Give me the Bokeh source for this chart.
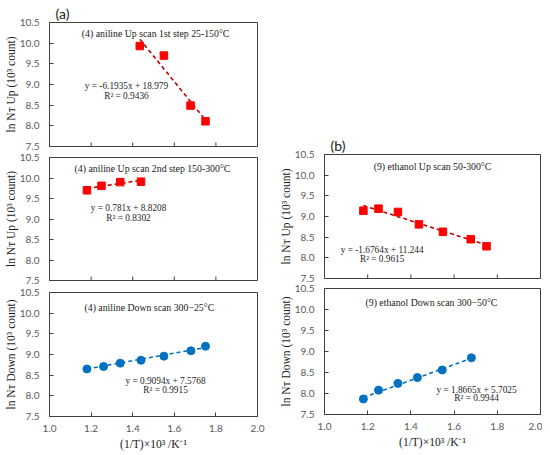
from bokeh.plotting import figure
from bokeh.models import Range1d, FixedTicker, Label, NumeralTickFormatter, Title
from bokeh.layouts import row, column
from bokeh.embed import file_html
from bokeh.resources import INLINE

# ---------------- data ----------------
an_up1_x = [1.434, 1.55, 1.678, 1.75]
an_up1_y = [9.93, 9.70, 8.49, 8.11]
an_up2_x = [1.18, 1.25, 1.34, 1.44]
an_up2_y = [9.70, 9.81, 9.90, 9.91]
an_dn_x = [1.18, 1.26, 1.34, 1.44, 1.55, 1.68, 1.75]
an_dn_y = [8.65, 8.71, 8.79, 8.86, 8.96, 9.09, 9.20]
et_up_x = [1.18, 1.25, 1.34, 1.437, 1.548, 1.677, 1.75]
et_up_y = [9.14, 9.19, 9.11, 8.81, 8.63, 8.45, 8.28]
et_dn_x = [1.18, 1.25, 1.34, 1.43, 1.545, 1.68]
et_dn_y = [7.87, 8.08, 8.24, 8.38, 8.56, 8.85]

fits = {
    "an_up1": (-6.1935, 18.979),
    "an_up2": (0.781, 8.8208),
    "an_dn": (0.9094, 7.5768),
    "et_up": (-1.6764, 11.244),
    "et_dn": (1.8665, 5.7025),
}
titles = {
    "an_up1": "(4) aniline Up scan 1st step 25-150°C",
    "an_up2": "(4) aniline Up scan 2nd step 150-300°C",
    "an_dn": "(4) aniline Down scan 300\u221225°C",
    "et_up": "(9) ethanol Up scan 50-300°C",
    "et_dn": "(9) ethanol Down scan 300\u221250°C",
}
eqs = {
    "an_up1": ("y = -6.1935x + 18.979", "R² = 0.9436"),
    "an_up2": ("y = 0.781x + 8.8208", "R² = 0.8302"),
    "an_dn": ("y = 0.9094x + 7.5768", "R² = 0.9915"),
    "et_up": ("y = -1.6764x + 11.244", "R² = 0.9615"),
    "et_dn": ("y = 1.8665x + 5.7025", "R² = 0.9944"),
}
y_ticks = [7.5, 8.0, 8.5, 9.0, 9.5, 10.0, 10.5]
x_ticks = [1.0, 1.2, 1.4, 1.6, 1.8, 2.0]
ylab_up = "ln N\u1d1b Up (10³ count)"
ylab_dn = "ln N\u1d1b Down (10³ count)"
xlab = "(1/T)×10³ /K\u207b\u00b9"

RED = "#FF0000"
RED_LINE = "#C00000"
BLUE = "#0070C0"
AX = "#404040"
SERIF = "Liberation Serif"


def panel(key, xs, ys, marker, color, lcolor, tpos, epos, rpos, ylab,
          bottom, fw, fh, b_left, b_right, b_top, b_bottom):
    p = figure(frame_width=fw, frame_height=fh, output_backend="svg",
               toolbar_location=None,
               x_range=Range1d(1.0, 2.0), y_range=Range1d(7.5, 10.5),
               min_border_left=b_left, min_border_right=b_right,
               min_border_top=b_top, min_border_bottom=b_bottom)
    p.background_fill_color = "white"
    p.border_fill_color = "white"
    p.outline_line_color = AX
    p.outline_line_width = 1
    p.grid.visible = False
    for ax in (p.xaxis, p.yaxis):
        ax.axis_line_color = AX
        ax.major_tick_line_color = AX
        ax.major_tick_in = 4
        ax.major_tick_out = 0
        ax.minor_tick_line_color = None
        ax.major_label_text_font = "Lato"
        ax.major_label_text_font_size = "10px"
        ax.major_label_text_color = "#595959"
    p.yaxis.ticker = FixedTicker(ticks=y_ticks)
    p.yaxis.formatter = NumeralTickFormatter(format="0.0")
    p.yaxis.major_label_standoff = 10
    p.yaxis.axis_label = ylab
    p.yaxis.axis_label_text_font = SERIF
    p.yaxis.axis_label_text_font_size = "11.5px"
    p.yaxis.axis_label_text_font_style = "normal"
    p.yaxis.axis_label_text_color = "#1a1a1a"
    p.yaxis.axis_label_standoff = 0
    p.xaxis.ticker = FixedTicker(ticks=x_ticks)
    p.xaxis.formatter = NumeralTickFormatter(format="0.0")
    if bottom:
        p.xaxis.major_label_standoff = 8
        p.xaxis.axis_label = xlab
        p.xaxis.axis_label_text_font = SERIF
        p.xaxis.axis_label_text_font_size = "11.5px"
        p.xaxis.axis_label_text_font_style = "normal"
        p.xaxis.axis_label_text_color = "#1a1a1a"
        p.xaxis.axis_label_standoff = 3
    else:
        # no tick labels on the upper panels: inward tick marks only
        p.xaxis.visible = False
        tick_len = 4 * 3.0 / fh
        p.segment(x0=x_ticks[1:-1], y0=[7.5] * (len(x_ticks) - 2),
                  x1=x_ticks[1:-1], y1=[7.5 + tick_len] * (len(x_ticks) - 2),
                  line_color=AX, line_width=1)

    m, b = fits[key]
    x0, x1 = min(xs), max(xs)
    p.line([x0, x1], [m * x0 + b, m * x1 + b], line_color=lcolor,
           line_width=1.6, line_dash="4 3")
    if marker == "square":
        p.scatter(xs, ys, marker="square", size=7.5, fill_color=color,
                  line_color=color)
    else:
        p.scatter(xs, ys, marker="circle", size=8, fill_color=color,
                  line_color=color)

    p.add_layout(Label(x=tpos[0], y=tpos[1], text=titles[key],
                       text_align="center", text_baseline="middle",
                       text_font=SERIF, text_font_size="9.8px",
                       text_color="#1a1a1a"))
    e, r = eqs[key]
    p.add_layout(Label(x=epos[0], y=epos[1], text=e,
                       text_align="center", text_baseline="middle",
                       text_font=SERIF, text_font_size="9.3px",
                       text_color="#262626"))
    p.add_layout(Label(x=rpos[0], y=rpos[1], text=r,
                       text_align="center", text_baseline="middle",
                       text_font=SERIF, text_font_size="9.3px",
                       text_color="#262626"))
    return p


p1 = panel("an_up1", an_up1_x, an_up1_y, "square", RED, RED_LINE,
           (1.51, 10.24), (1.37, 8.97), (1.37, 8.73), ylab_up,
           False, 208, 124, 49, 10, 22, 5)
p2 = panel("an_up2", an_up2_x, an_up2_y, "square", RED, RED_LINE,
           (1.495, 10.23), (1.38, 9.26), (1.38, 9.02), ylab_up,
           False, 208, 123, 49, 10, 6, 6)
p3 = panel("an_dn", an_dn_x, an_dn_y, "circle", BLUE, BLUE,
           (1.48, 10.14), (1.558, 8.36), (1.558, 8.14), ylab_dn,
           True, 208, 124, 49, 10, 6, 31)
p4 = panel("et_up", et_up_x, et_up_y, "square", RED, RED_LINE,
           (1.50, 10.2), (1.267, 8.20), (1.267, 7.98), ylab_up,
           False, 216, 124, 57, 2, 154, 5)
p5 = panel("et_dn", et_dn_x, et_dn_y, "circle", BLUE, BLUE,
           (1.495, 10.16), (1.704, 8.09), (1.704, 7.89), ylab_dn,
           True, 216, 126, 57, 2, 5, 31)

for p, lab in ((p1, "(a)"), (p4, "(b)")):
    p.add_layout(Title(text=lab, align="left", offset=6, standoff=1,
                       text_font="Lato", text_font_size="14px",
                       text_font_style="normal", text_color="#1a1a1a"),
                 "above")

layout = row(column(p1, p2, p3), column(p4, p5))
open("out.html", "w").write(file_html(layout, INLINE))
